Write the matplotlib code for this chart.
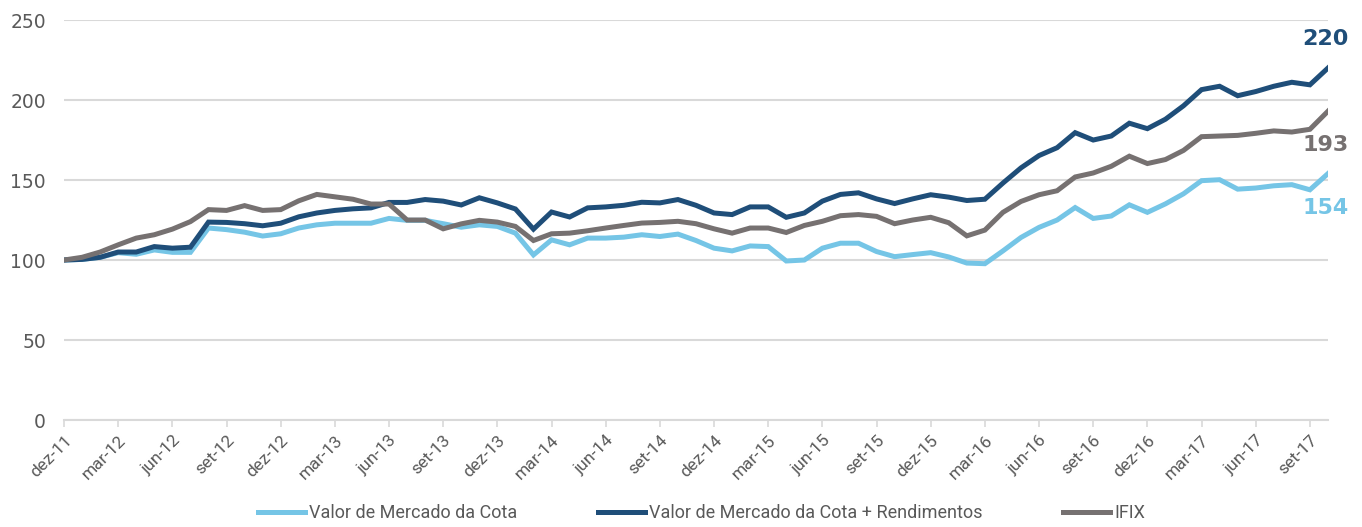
import numpy as np
import matplotlib
matplotlib.use("Agg")
import matplotlib.pyplot as plt

# meses: dez-11 ... out-17
meses = ['jan', 'fev', 'mar', 'abr', 'mai', 'jun', 'jul', 'ago', 'set', 'out', 'nov', 'dez']
datas = ['dez-11'] + [f'{m}-{a}' for a in range(12, 18) for m in meses][:70]

valor_cota = [100, 100.4, 101.7, 104.6, 103.6, 106.3, 104.8, 104.8, 120, 119,
              117.4, 115, 116.4, 120, 122, 123, 123, 123, 126, 124.8,
              124.8, 122.7, 120.5, 122, 121, 116.8, 103.2, 112.6, 109.5, 113.7,
              113.7, 114.3, 115.8, 114.7, 116.2, 112.2, 107.4, 105.7, 108.8, 108.4,
              99.4, 100, 107.4, 110.5, 110.5, 105.3, 102.1, 103.4, 104.6, 101.9,
              98.1, 97.7, 105.7, 114.1, 120.4, 125, 132.8, 126, 127.5, 134.5,
              129.8, 135.1, 141.4, 149.6, 150.2, 144.3, 145, 146.4, 147.1, 143.9,
              154]
valor_rend = [100, 100.4, 101.7, 105, 105, 108.4, 107.4, 108, 123.7, 123.5,
              122.7, 121.4, 123, 127, 129.4, 131, 132, 132.6, 136, 136,
              137.8, 136.8, 134.4, 138.9, 135.7, 131.9, 119.3, 130, 126.9, 132.6,
              133.2, 134.2, 136.1, 135.7, 137.8, 134.2, 129.4, 128.4, 133.2, 133.2,
              126.7, 129.4, 136.8, 141, 142, 138.2, 135.3, 138.2, 140.8, 139.3,
              137.2, 138, 148.1, 157.6, 165.3, 170.2, 179.6, 175, 177.5, 185.5,
              182.1, 188, 196.4, 206.5, 208.6, 202.7, 205.3, 208.6, 211.1, 209.5,
              220]
ifix = [100, 101.7, 105, 109.5, 113.7, 115.8, 119.3, 124, 131.5, 131,
        134, 131, 131.5, 137, 141, 139.5, 138, 135, 135, 125,
        125, 119.5, 122.6, 124.8, 123.7, 121, 112.2, 116.4, 116.8, 118.3,
        120, 121.6, 123.1, 123.5, 124.2, 122.7, 119.5, 116.8, 120, 120,
        117.2, 121.6, 124.2, 127.7, 128.4, 127.3, 122.7, 125, 126.7, 123.3,
        115.1, 118.7, 129.8, 136.6, 140.8, 143.3, 151.9, 154.4, 158.6, 164.9,
        160.3, 162.8, 168.5, 177.1, 177.5, 177.9, 179.2, 180.7, 180, 181.7,
        193]

rotulos = ['220', '193', '154']

c_claro = '#75C5E6'
c_escuro = '#1F4E79'
c_cinza = '#767171'
c_texto = '#595959'
fonte_estreita = ['Liberation Sans Narrow', 'Roboto', 'DejaVu Sans']

x = np.arange(len(datas))

fig = plt.figure(figsize=(13.62, 5.27), dpi=100)
ax = fig.add_axes([0.047, 0.203, 0.928, 0.759])

ax.plot(x, valor_cota, color=c_claro, lw=3.6, label='Valor de Mercado da Cota', solid_joinstyle='miter')
ax.plot(x, valor_rend, color=c_escuro, lw=3.6, label='Valor de Mercado da Cota + Rendimentos', solid_joinstyle='miter')
ax.plot(x, ifix, color=c_cinza, lw=3.6, label='IFIX', solid_joinstyle='miter')

ax.set_xlim(0, len(datas) - 1)
ax.set_ylim(0, 250)
ax.set_yticks(range(0, 251, 50))
ax.grid(axis='y', color='#D9D9D9', lw=1.5)
ax.set_axisbelow(True)
for s in ['top', 'right', 'left']:
    ax.spines[s].set_visible(False)
ax.spines['bottom'].set_color('#D9D9D9')
ax.spines['bottom'].set_linewidth(1.5)

ax.set_xticks(x[::3])
ax.set_xticklabels(datas[::3], rotation=45, ha='right', rotation_mode='anchor',
                   family=fonte_estreita, fontsize=12.5, color=c_texto)
ax.tick_params(axis='x', length=5, width=1.2, color='#D9D9D9', pad=4)
ax.tick_params(axis='y', length=0, labelsize=13.5, labelcolor=c_texto, pad=13)

# rótulos finais
ult = len(datas) - 1
ax.annotate(rotulos[0], (ult, valor_rend[-1]), xytext=(-2, 21), textcoords='offset points',
            ha='center', va='center', fontsize=16, fontweight='bold', color=c_escuro)
ax.annotate(rotulos[1], (ult, ifix[-1]), xytext=(-2, -24), textcoords='offset points',
            ha='center', va='center', fontsize=16, fontweight='bold', color=c_cinza)
ax.annotate(rotulos[2], (ult, valor_cota[-1]), xytext=(-2, -25), textcoords='offset points',
            ha='center', va='center', fontsize=16, fontweight='bold', color=c_claro)

leg = fig.legend(loc='lower center', bbox_to_anchor=(0.515, -0.022), ncol=3, frameon=False,
                 prop={'family': fonte_estreita, 'size': 13}, handlelength=2.6,
                 handletextpad=0.2, columnspacing=4.5)
for t in leg.get_texts():
    t.set_color(c_texto)

fig.savefig('out.png', dpi=100)
